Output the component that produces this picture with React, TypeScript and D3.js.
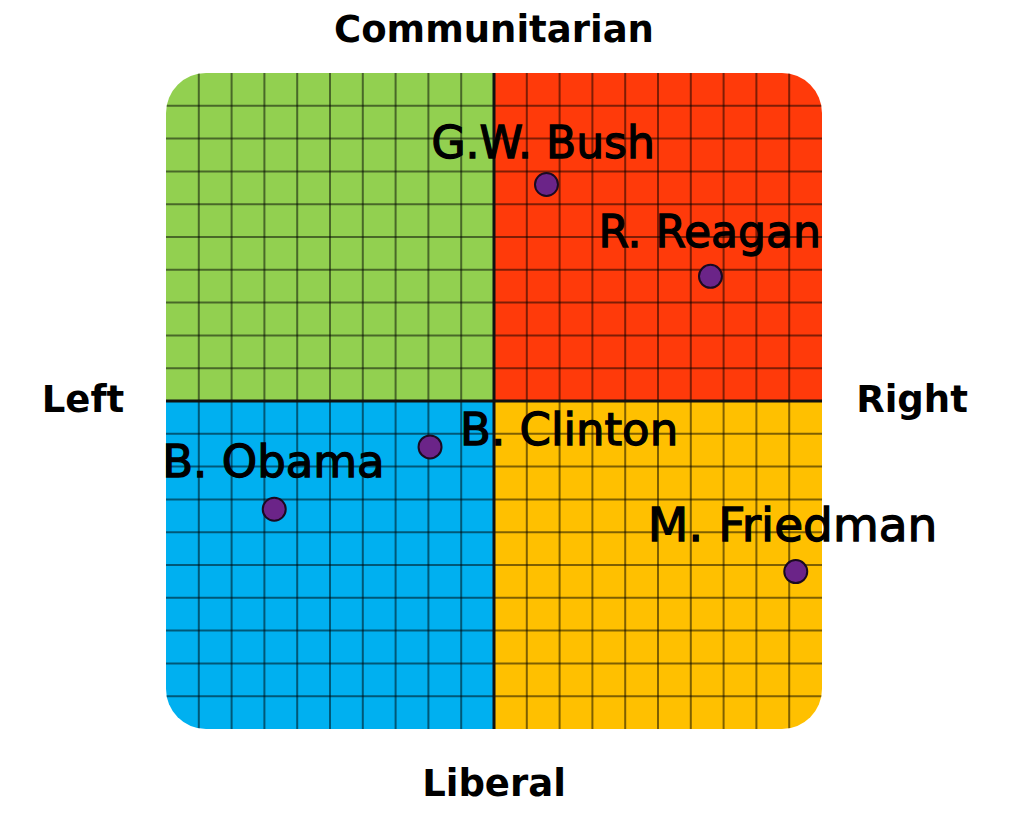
import React from "react";
import * as d3 from "d3";

const quadrants = [
  { name: "Communitarian Left", x0: -10, x1: 0, y0: 0, y1: 10, color: "#92D050" },
  { name: "Communitarian Right", x0: 0, x1: 10, y0: 0, y1: 10, color: "#FF3A0A" },
  { name: "Liberal Left", x0: -10, x1: 0, y0: -10, y1: 0, color: "#00B0F0" },
  { name: "Liberal Right", x0: 0, x1: 10, y0: -10, y1: 0, color: "#FFC000" },
];

const people = ["G.W. Bush", "R. Reagan", "B. Clinton", "B. Obama", "M. Friedman"];
const economicX = [1.6, 6.6, -1.95, -6.7, 9.2];
const socialY = [6.6, 3.8, -1.4, -3.3, -5.2];

// label placement and size relative to each point (styling, not data)
const labelDx = [-115, -112, 30, -112, -148];
const labelDy = [-27, -29, -2, -32, -31];
const labelSize = [44, 44, 45, 45, 47];

const gridTicks = d3.range(-9, 10);

const W = 1024;
const H = 820;

export default function App() {
  const x = d3.scaleLinear().domain([-10, 10]).range([166, 822]);
  const y = d3.scaleLinear().domain([-10, 10]).range([729, 73]);
  const labelFont = "'DejaVu Sans', Verdana, sans-serif";

  return (
    <svg
      width={W}
      height={H}
      style={{ position: "absolute", left: 0, top: 0, background: "#fff" }}
    >
      <defs>
        <clipPath id="board">
          <rect x={x(-10)} y={y(10)} width={x(10) - x(-10)} height={y(-10) - y(10)} rx={40} ry={40} />
        </clipPath>
      </defs>
      <g clipPath="url(#board)">
        {quadrants.map((q) => (
          <rect
            key={q.name}
            x={x(q.x0)}
            y={y(q.y1)}
            width={x(q.x1) - x(q.x0)}
            height={y(q.y0) - y(q.y1)}
            fill={q.color}
          />
        ))}
        {gridTicks.filter((t) => t !== 0).map((t) => (
          <line key={"v" + t} x1={x(t)} x2={x(t)} y1={y(10)} y2={y(-10)} stroke="#000" strokeOpacity={0.5} strokeWidth={2} />
        ))}
        {gridTicks.filter((t) => t !== 0).map((t) => (
          <line key={"h" + t} y1={y(t)} y2={y(t)} x1={x(-10)} x2={x(10)} stroke="#000" strokeOpacity={0.5} strokeWidth={2} />
        ))}
        <line x1={x(0)} x2={x(0)} y1={y(10)} y2={y(-10)} stroke="#111" strokeWidth={3} />
        <line y1={y(0)} y2={y(0)} x1={x(-10)} x2={x(10)} stroke="#111" strokeWidth={3} />
      </g>

      {people.map((p, i) => (
        <circle
          key={p}
          cx={x(economicX[i])}
          cy={y(socialY[i])}
          r={11.5}
          fill="#6B2488"
          stroke="#1a0a20"
          strokeWidth={2}
        />
      ))}
      {people.map((p, i) => (
        <text
          key={p + "-label"}
          x={x(economicX[i]) + labelDx[i]}
          y={y(socialY[i]) + labelDy[i]}
          fontFamily={labelFont}
          fontSize={labelSize[i]}
          fill="#000"
          stroke="#000"
          strokeWidth={1.3}
        >
          {p}
        </text>
      ))}

      <g fontFamily={labelFont} fontWeight="bold" fontSize={37} fill="#000" textAnchor="middle">
        <text x={x(0)} y={42}>Communitarian</text>
        <text x={x(0)} y={796}>Liberal</text>
        <text x={83} y={412}>Left</text>
        <text x={912} y={412}>Right</text>
      </g>
    </svg>
  );
}
